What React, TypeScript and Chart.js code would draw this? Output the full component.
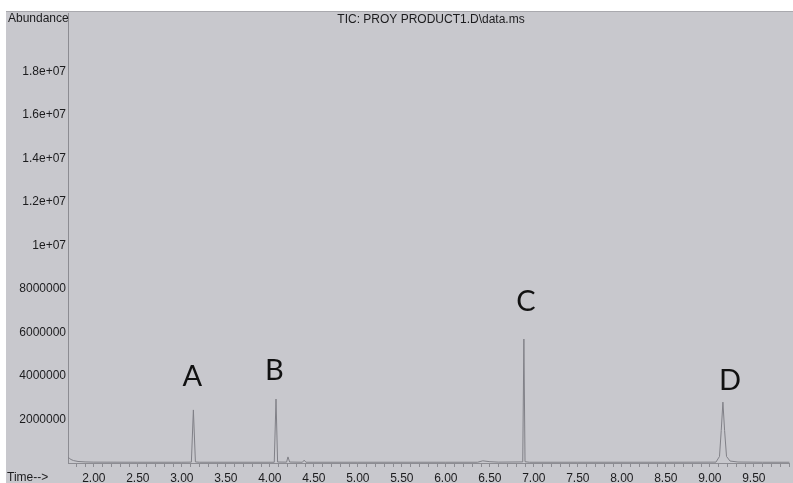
import React, { useEffect, useRef } from 'react';
import { Chart, registerables } from 'chart.js';

Chart.register(...registerables);

// Total ion chromatogram trace: retention time (min) and abundance
const retentionTimes = [
  1.706, 1.72, 1.74, 1.77, 1.82, 1.9, 2.0, 2.5, 3.0,
  3.108, 3.131, 3.154, 3.2,
  4.05, 4.07, 4.088, 4.19, 4.206, 4.225, 4.37, 4.39, 4.41,
  5.0, 6.0, 6.36, 6.42, 6.5, 6.6, 6.874, 6.887, 6.9, 6.95,
  7.5, 8.5, 9.07, 9.11, 9.13, 9.149, 9.168, 9.19, 9.23, 9.32, 9.6, 9.907,
];
const abundances = [
  250000, 220000, 160000, 110000, 70000, 50000, 40000, 35000, 35000,
  40000, 2440000, 50000, 35000,
  35000, 2940000, 45000, 40000, 280000, 45000, 35000, 130000, 35000,
  35000, 35000, 35000, 100000, 60000, 40000, 50000, 5700000, 60000, 35000,
  35000, 35000, 40000, 300000, 1500000, 2800000, 1500000, 300000, 90000, 45000, 35000, 35000,
];

// Peak tags
const peakNames = ['A', 'B', 'C', 'D'];
const peakNameTimes = [3.12, 4.05, 6.91, 9.23];
const peakNameAbundances = [3950000, 4230000, 7400000, 3770000];

// Axis ticks
const xTickLabels = ['2.00', '2.50', '3.00', '3.50', '4.00', '4.50', '5.00', '5.50', '6.00', '6.50', '7.00', '7.50', '8.00', '8.50', '9.00', '9.50'];
const yTickValues = [2000000, 4000000, 6000000, 8000000, 10000000, 12000000, 14000000, 16000000, 18000000];
const yTickLabels = ['2000000', '4000000', '6000000', '8000000', '1e+07', '1.2e+07', '1.4e+07', '1.6e+07', '1.8e+07'];

const chartTitle = 'TIC: PROY PRODUCT1.D\\data.ms';
const yAxisName = 'Abundance';
const xAxisName = 'Time-->';

const FONT = '"Liberation Sans", Arial, sans-serif';
const TEXT = '#1c1c1e';
const AXIS = '#8c8c92';
const PANEL = '#c8c8cd';

const panelPlugin = {
  id: 'panel',
  beforeDraw(chart: any) {
    const { ctx, width, height } = chart;
    ctx.save();
    ctx.fillStyle = '#ffffff';
    ctx.fillRect(0, 0, width, height);
    ctx.fillStyle = PANEL;
    ctx.fillRect(6, 11, width - 6, height - 11);
    ctx.strokeStyle = '#a9a9ae';
    ctx.lineWidth = 1;
    ctx.beginPath();
    ctx.moveTo(6, 11.5);
    ctx.lineTo(width, 11.5);
    ctx.stroke();
    ctx.restore();
  },
  afterDraw(chart: any) {
    const { ctx } = chart;
    const xs = chart.scales.x;
    const ys = chart.scales.y;
    ctx.save();
    ctx.fillStyle = TEXT;
    ctx.font = `12px ${FONT}`;
    ctx.textBaseline = 'middle';
    ctx.textAlign = 'center';
    ctx.fillText(chartTitle, 431, 20);
    ctx.textAlign = 'left';
    ctx.fillText(yAxisName, 8, 19);
    ctx.fillText(xAxisName, 7, 478);

    ctx.fillStyle = '#111111';
    ctx.font = `29px Lato, "Open Sans", sans-serif`;
    ctx.textAlign = 'center';
    peakNames.forEach((name, i) => {
      ctx.fillText(name, xs.getPixelForValue(peakNameTimes[i]), ys.getPixelForValue(peakNameAbundances[i]));
    });
    ctx.restore();
  },
};

export default function App() {
  const canvasRef = useRef<HTMLCanvasElement | null>(null);

  useEffect(() => {
    if (!canvasRef.current) return;
    const points = retentionTimes.map((t, i) => ({ x: t, y: abundances[i] }));
    const chart = new Chart(canvasRef.current, {
      type: 'line',
      data: {
        datasets: [
          {
            data: points,
            borderColor: '#808087',
            borderWidth: 1,
            pointRadius: 0,
            tension: 0,
            fill: false,
          },
        ],
      },
      options: {
        animation: false,
        responsive: false,
        devicePixelRatio: 1,
        layout: { padding: { top: 13, left: 0, right: 0, bottom: 0 } },
        plugins: {
          legend: { display: false },
          title: { display: false },
          tooltip: { enabled: false },
        },
        scales: {
          x: {
            type: 'linear',
            min: 1.706,
            max: 9.907,
            afterFit: (s: any) => {
              s.height = 20;
            },
            afterBuildTicks: (s: any) => {
              const ticks = [];
              for (let k = 18; k <= 99; k++) ticks.push({ value: k / 10 });
              s.ticks = ticks;
            },
            grid: {
              drawOnChartArea: false,
              drawTicks: true,
              tickLength: 4,
              color: AXIS,
            },
            border: { display: true, color: AXIS, width: 1 },
            ticks: {
              autoSkip: false,
              maxRotation: 0,
              minRotation: 0,
              padding: 4,
              color: TEXT,
              font: { family: FONT, size: 12 },
              callback: (v: any) => {
                const idx = xTickLabels.indexOf(Number(v).toFixed(2));
                return idx >= 0 ? xTickLabels[idx] : '';
              },
            },
          },
          y: {
            type: 'linear',
            min: 0,
            max: 20690000,
            afterFit: (s: any) => {
              s.width = 68;
            },
            afterBuildTicks: (s: any) => {
              s.ticks = yTickValues.map((v) => ({ value: v }));
            },
            grid: { drawOnChartArea: false, drawTicks: false },
            border: { display: true, color: AXIS, width: 1 },
            ticks: {
              padding: 2,
              color: TEXT,
              font: { family: FONT, size: 12 },
              callback: (v: any) => {
                const idx = yTickValues.indexOf(Number(v));
                return idx >= 0 ? yTickLabels[idx] : '';
              },
            },
          },
        },
      },
      plugins: [panelPlugin],
    });
    return () => chart.destroy();
  }, []);

  return (
    <div style={{ position: 'absolute', left: 0, top: 0, width: 793, height: 483 }}>
      <canvas ref={canvasRef} width={793} height={483} style={{ display: 'block' }} />
    </div>
  );
}
